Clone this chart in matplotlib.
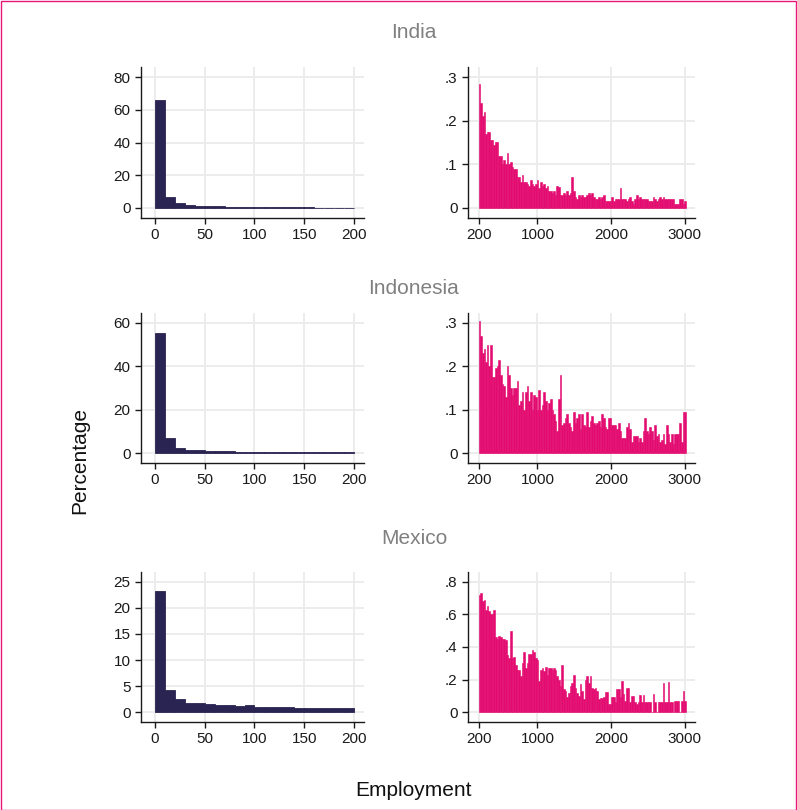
import numpy as np
import matplotlib
matplotlib.use("Agg")
import matplotlib.pyplot as plt
from matplotlib.patches import Rectangle

plt.rcParams['font.family'] = ['Liberation Sans', 'DejaVu Sans']

countries = ["India", "Indonesia", "Mexico"]

# Left panels: employment 0-200, bins of 10 (percentage)
small_edges_range = (0, 200)
india_small = [66, 6.5, 2.8, 1.6, 1.5, 1.2, 0.9, 0.8, 0.7, 0.65, 0.6, 0.55, 0.4, 0.35,
               0.3, 0.3, 0.28, 0.25, 0.22, 0.2]
indonesia_small = [55.5, 6.8, 2.5, 1.6, 1.2, 0.9, 0.8, 0.8, 0.6, 0.55, 0.5, 0.5, 0.45,
                   0.45, 0.45, 0.4, 0.4, 0.4, 0.3, 0.5]
mexico_small = [23.3, 4.3, 2.6, 1.8, 1.7, 1.5, 1.4, 1.3, 1.1, 1.4, 1.0, 1.0, 1.0, 0.95,
                0.85, 0.85, 0.85, 0.8, 0.8, 0.7]

# Right panels: employment 200-3015, narrow bins (percentage)
large_edges_range = (200, 3015)
india_large = [
    0.285, 0.24, 0.21, 0.22, 0.17, 0.175, 0.175, 0.155, 0.155, 0.145, 0.15, 0.15,
    0.12, 0.12, 0.10, 0.11, 0.10, 0.125, 0.10, 0.105, 0.095, 0.09, 0.09, 0.07, 0.07,
    0.06, 0.075, 0.06, 0.06, 0.055, 0.05, 0.065, 0.055, 0.05, 0.055, 0.065, 0.045,
    0.06, 0.05, 0.055, 0.045, 0.05, 0.04, 0.04, 0.035, 0.04, 0.03, 0.05, 0.048,
    0.03, 0.03, 0.035, 0.03, 0.04, 0.03, 0.035, 0.07, 0.04, 0.025, 0.02, 0.03,
    0.025, 0.03, 0.025, 0.025, 0.03, 0.035, 0.03, 0.035, 0.025, 0.02, 0.02, 0.025,
    0.02, 0.025, 0.03, 0.015, 0.015, 0.015, 0.015, 0.025, 0.015, 0.02, 0.02, 0.02,
    0.045, 0.02, 0.02, 0.02, 0.015, 0.02, 0.025, 0.015, 0.01, 0.02, 0.03, 0.02,
    0.025, 0.02, 0.02, 0.02, 0.02, 0.015, 0.015, 0.015, 0.025, 0.02, 0.015, 0.02,
    0.025, 0.02, 0.025, 0.02, 0.02, 0.02, 0.02, 0.02, 0.02, 0.01, 0.01, 0.01, 0.02,
    0.02, 0.01, 0.015]
indonesia_large = [
    0.305, 0.27, 0.23, 0.24, 0.21, 0.25, 0.20, 0.25, 0.175, 0.175, 0.195, 0.20,
    0.215, 0.18, 0.16, 0.155, 0.13, 0.20, 0.18, 0.15, 0.135, 0.15, 0.15, 0.165,
    0.11, 0.12, 0.14, 0.10, 0.14, 0.155, 0.12, 0.14, 0.10, 0.135, 0.13, 0.10,
    0.145, 0.10, 0.11, 0.14, 0.12, 0.10, 0.115, 0.125, 0.10, 0.09, 0.075, 0.05,
    0.125, 0.18, 0.065, 0.07, 0.08, 0.09, 0.07, 0.06, 0.05, 0.095, 0.07, 0.08,
    0.09, 0.055, 0.09, 0.065, 0.06, 0.095, 0.06, 0.075, 0.085, 0.07, 0.065, 0.07,
    0.075, 0.06, 0.09, 0.08, 0.06, 0.055, 0.08, 0.08, 0.065, 0.065, 0.065, 0.055,
    0.07, 0.05, 0.035, 0.035, 0.035, 0.06, 0.07, 0.055, 0.025, 0.04, 0.04, 0.04,
    0.025, 0.035, 0.025, 0.05, 0.08, 0.05, 0.045, 0.06, 0.05, 0.03, 0.065, 0.04,
    0.045, 0.025, 0.03, 0.045, 0.02, 0.065, 0.045, 0.025, 0.045, 0.02, 0.045,
    0.045, 0.045, 0.07, 0.025, 0.095, 0.095]
mexico_large = [
    0.72, 0.73, 0.68, 0.69, 0.63, 0.65, 0.62, 0.60, 0.60, 0.625, 0.46, 0.45, 0.47,
    0.46, 0.45, 0.45, 0.44, 0.35, 0.33, 0.50, 0.33, 0.34, 0.29, 0.26, 0.26, 0.22,
    0.30, 0.37, 0.27, 0.30, 0.36, 0.36, 0.38, 0.37, 0.33, 0.32, 0.19, 0.26, 0.27,
    0.25, 0.28, 0.23, 0.27, 0.27, 0.26, 0.27, 0.26, 0.22, 0.20, 0.16, 0.29, 0.14,
    0.13, 0.09, 0.12, 0.16, 0.18, 0.23, 0.15, 0.12, 0.10, 0.17, 0.13, 0.08, 0.20,
    0.22, 0.18, 0.22, 0.15, 0.14, 0.15, 0.13, 0.08, 0.085, 0.085, 0.09, 0.125,
    0.125, 0.05, 0.05, 0.09, 0.09, 0.06, 0.14, 0.14, 0.09, 0.19, 0.11, 0.07, 0.15,
    0.15, 0.06, 0.10, 0.10, 0.06, 0.05, 0.06, 0.105, 0.06, 0.105, 0.06, 0.06, 0.06,
    0.06, 0.0, 0.11, 0.06, 0.0, 0.06, 0.06, 0.06, 0.18, 0.06, 0.06, 0.185, 0.06,
    0.06, 0.0, 0.065, 0.065, 0.065, 0.0, 0.065, 0.13, 0.065]

small_series = [india_small, indonesia_small, mexico_small]
large_series = [india_large, indonesia_large, mexico_large]

small_xticks = [0, 50, 100, 150, 200]
small_xticklabels = ["0", "50", "100", "150", "200"]
large_xticks = [200, 1000, 2000, 3000]
large_xticklabels = ["200", "1000", "2000", "3000"]

small_yticks = [[0, 20, 40, 60, 80], [0, 20, 40, 60], [0, 5, 10, 15, 20, 25]]
small_yticklabels = [["0", "20", "40", "60", "80"], ["0", "20", "40", "60"],
                     ["0", "5", "10", "15", "20", "25"]]
large_yticks = [[0, 0.1, 0.2, 0.3], [0, 0.1, 0.2, 0.3], [0, 0.2, 0.4, 0.6, 0.8]]
large_yticklabels = [["0", ".1", ".2", ".3"], ["0", ".1", ".2", ".3"],
                     ["0", ".2", ".4", ".6", ".8"]]

navy = "#2a2452"
pink = "#e30b6f"
border = "#e8177a"
grid_c = "#ebebeb"

W, H = 797, 810
fig = plt.figure(figsize=(W / 100, H / 100), dpi=100)
fig.patch.set_facecolor("white")
fig.add_artist(Rectangle((0.5 / W, 0.5 / H), 1 - 1.5 / W, 1 - 1.5 / H,
                         transform=fig.transFigure, fill=False,
                         edgecolor=border, linewidth=1.0))

def frac_box(x0, y0, x1, y1):
    return [x0 / W, 1 - y1 / H, (x1 - x0) / W, (y1 - y0) / H]

row_tops = [67, 313, 572]
row_bottoms = [218, 463, 722]
title_y = [32, 288, 538]

def style(ax):
    for s in ["top", "right"]:
        ax.spines[s].set_visible(False)
    for s in ["left", "bottom"]:
        ax.spines[s].set_linewidth(1.0)
        ax.spines[s].set_color("#1a1a1a")
    ax.grid(True, color=grid_c, linewidth=1.3)
    ax.set_axisbelow(True)
    ax.tick_params(axis="both", direction="out", length=4.5, width=1.0,
                   labelsize=11, colors="#1a1a1a", pad=3)

for i in range(3):
    # left panel
    axL = fig.add_axes(frac_box(141, row_tops[i], 364, row_bottoms[i]))
    vals = np.array(small_series[i])
    edges = np.linspace(small_edges_range[0], small_edges_range[1], len(vals) + 1)
    axL.bar(edges[:-1], vals, width=np.diff(edges), align="edge",
            color=navy, edgecolor=navy, linewidth=0.6, zorder=2)
    ymax = small_yticks[i][-1]
    pad = ymax * 10 / 130.4
    axL.set_ylim(-pad, ymax + pad)
    axL.set_xlim(-14, 210)
    axL.set_xticks(small_xticks)
    axL.set_xticklabels(small_xticklabels)
    axL.set_yticks(small_yticks[i])
    axL.set_yticklabels(small_yticklabels[i])
    style(axL)

    # right panel
    axR = fig.add_axes(frac_box(468, row_tops[i], 695, row_bottoms[i]))
    vals = np.array(large_series[i])
    edges = np.linspace(large_edges_range[0], large_edges_range[1], len(vals) + 1)
    axR.bar(edges[:-1], vals, width=np.diff(edges), align="edge",
            color=pink, edgecolor=pink, linewidth=0.4, zorder=2)
    ymax = large_yticks[i][-1]
    pad = ymax * 10 / 130.4
    axR.set_ylim(-pad, ymax + pad)
    axR.set_xlim(57, 3139)
    axR.set_xticks(large_xticks)
    axR.set_xticklabels(large_xticklabels)
    axR.set_yticks(large_yticks[i])
    axR.set_yticklabels(large_yticklabels[i])
    style(axR)

    fig.text(414 / W, 1 - title_y[i] / H, countries[i], ha="center", va="center",
             fontsize=15, color="#808080")

fig.text(80 / W, 1 - 460 / H, "Percentage", rotation=90, ha="center", va="center",
         fontsize=15, color="#111111")
fig.text(414 / W, 1 - 790 / H, "Employment", ha="center", va="center",
         fontsize=15, color="#111111")

fig.savefig("out.png", dpi=100, facecolor="white")
